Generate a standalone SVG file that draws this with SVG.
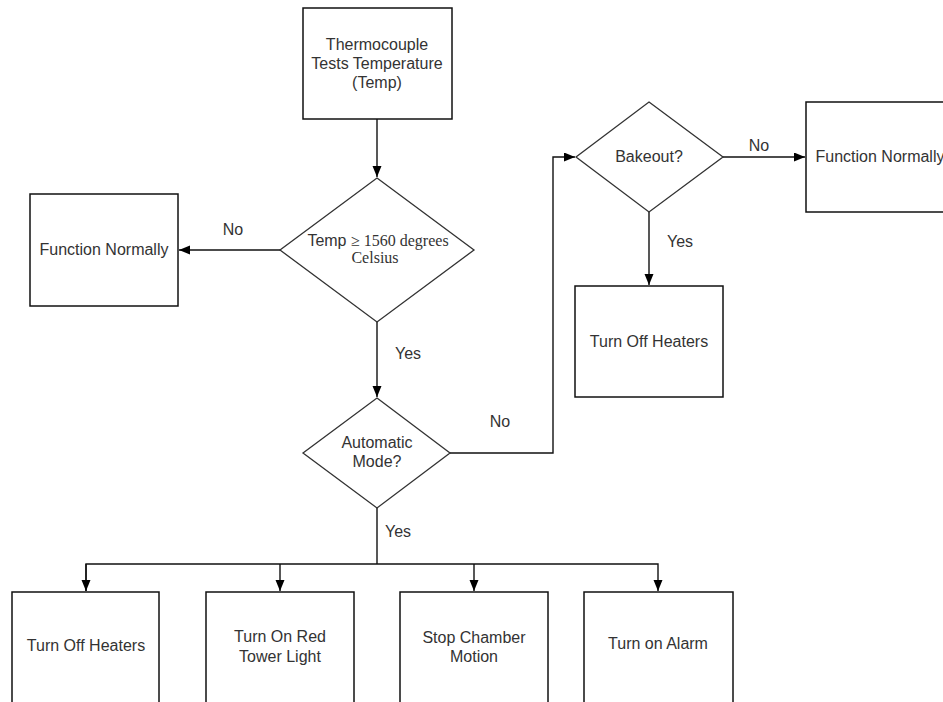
<svg xmlns="http://www.w3.org/2000/svg" width="943" height="702" viewBox="0 0 943 702">
<defs>
<marker id="arr" markerUnits="userSpaceOnUse" markerWidth="12" markerHeight="10" refX="11" refY="4.5" orient="auto">
<path d="M0,0 L11,4.5 L0,9 z" fill="#000"/>
</marker>
<style>
.box{fill:#fff;stroke:#111;stroke-width:1.5}
.dia{fill:#fff;stroke:#333;stroke-width:1.3}
.ln{fill:none;stroke:#111;stroke-width:1.4}
.t{font-family:"Liberation Sans",Arial,sans-serif;font-size:16px;fill:#333;text-anchor:middle}
.sa{font-family:"Liberation Sans",Arial,sans-serif}
.tr{font-family:"Liberation Serif","Times New Roman",serif;font-size:16px;fill:#333}
</style>
</defs>
<rect width="943" height="702" fill="#fff"/>
<g id="connectors">
<path class="ln" d="M377,119 V177" marker-end="url(#arr)"/>
<path class="ln" d="M280,250 H179" marker-end="url(#arr)"/>
<path class="ln" d="M377,322 V397" marker-end="url(#arr)"/>
<path class="ln" d="M450,453 H553 V157 H575" marker-end="url(#arr)"/>
<path class="ln" d="M723,157 H805" marker-end="url(#arr)"/>
<path class="ln" d="M649,212 V285" marker-end="url(#arr)"/>
<path class="ln" d="M377,508 V564"/>
<path class="ln" d="M86,591 V564 H658 V591" marker-end="url(#arr)"/>
<path class="ln" d="M86,564 V591" marker-end="url(#arr)"/>
<path class="ln" d="M280,564 V591" marker-end="url(#arr)"/>
<path class="ln" d="M474,564 V591" marker-end="url(#arr)"/>
<text class="t" x="233" y="235">No</text>
<text class="t" x="408" y="359">Yes</text>
<text class="t" x="500" y="427">No</text>
<text class="t" x="398" y="537">Yes</text>
<text class="t" x="759" y="151">No</text>
<text class="t" x="680" y="247">Yes</text>
</g>
<g id="thermocouple">
<rect class="box" x="303" y="8" width="149" height="111"/>
<text class="t" x="377" y="50">Thermocouple</text>
<text class="t" x="377" y="69">Tests Temperature</text>
<text class="t" x="377" y="88">(Temp)</text>
</g>
<g id="temp-check">
<polygon class="dia" points="377,178 474,250 377,322 280,250"/>
<text class="tr" x="378" y="246" text-anchor="middle"><tspan class="sa">Temp </tspan>≥ 1560 degrees</text>
<text class="tr" x="375" y="263" text-anchor="middle">Celsius</text>
</g>
<g id="function-normally-left">
<rect class="box" x="30" y="194" width="148" height="112"/>
<text class="t" x="104" y="255">Function Normally</text>
</g>
<g id="automatic-mode">
<polygon class="dia" points="377,398 450,453 377,508 303,453"/>
<text class="t" x="377" y="448">Automatic</text>
<text class="t" x="377" y="467">Mode?</text>
</g>
<g id="bakeout">
<polygon class="dia" points="649,102 723,157 649,212 576,157"/>
<text class="t" x="649" y="162">Bakeout?</text>
</g>
<g id="function-normally-right">
<rect class="box" x="806" y="102" width="148" height="110"/>
<text class="t" x="880" y="162">Function Normally</text>
</g>
<g id="turn-off-heaters-bakeout">
<rect class="box" x="575" y="286" width="148" height="111"/>
<text class="t" x="649" y="347">Turn Off Heaters</text>
</g>
<g id="turn-off-heaters">
<rect class="box" x="12" y="592" width="147" height="120"/>
<text class="t" x="86" y="651">Turn Off Heaters</text>
</g>
<g id="red-tower-light">
<rect class="box" x="206" y="592" width="148" height="120"/>
<text class="t" x="280" y="642">Turn On Red</text>
<text class="t" x="280" y="662">Tower Light</text>
</g>
<g id="stop-chamber">
<rect class="box" x="400" y="592" width="148" height="120"/>
<text class="t" x="474" y="643">Stop Chamber</text>
<text class="t" x="474" y="662">Motion</text>
</g>
<g id="alarm">
<rect class="box" x="584" y="592" width="149" height="120"/>
<text class="t" x="658" y="649">Turn on Alarm</text>
</g>
</svg>
